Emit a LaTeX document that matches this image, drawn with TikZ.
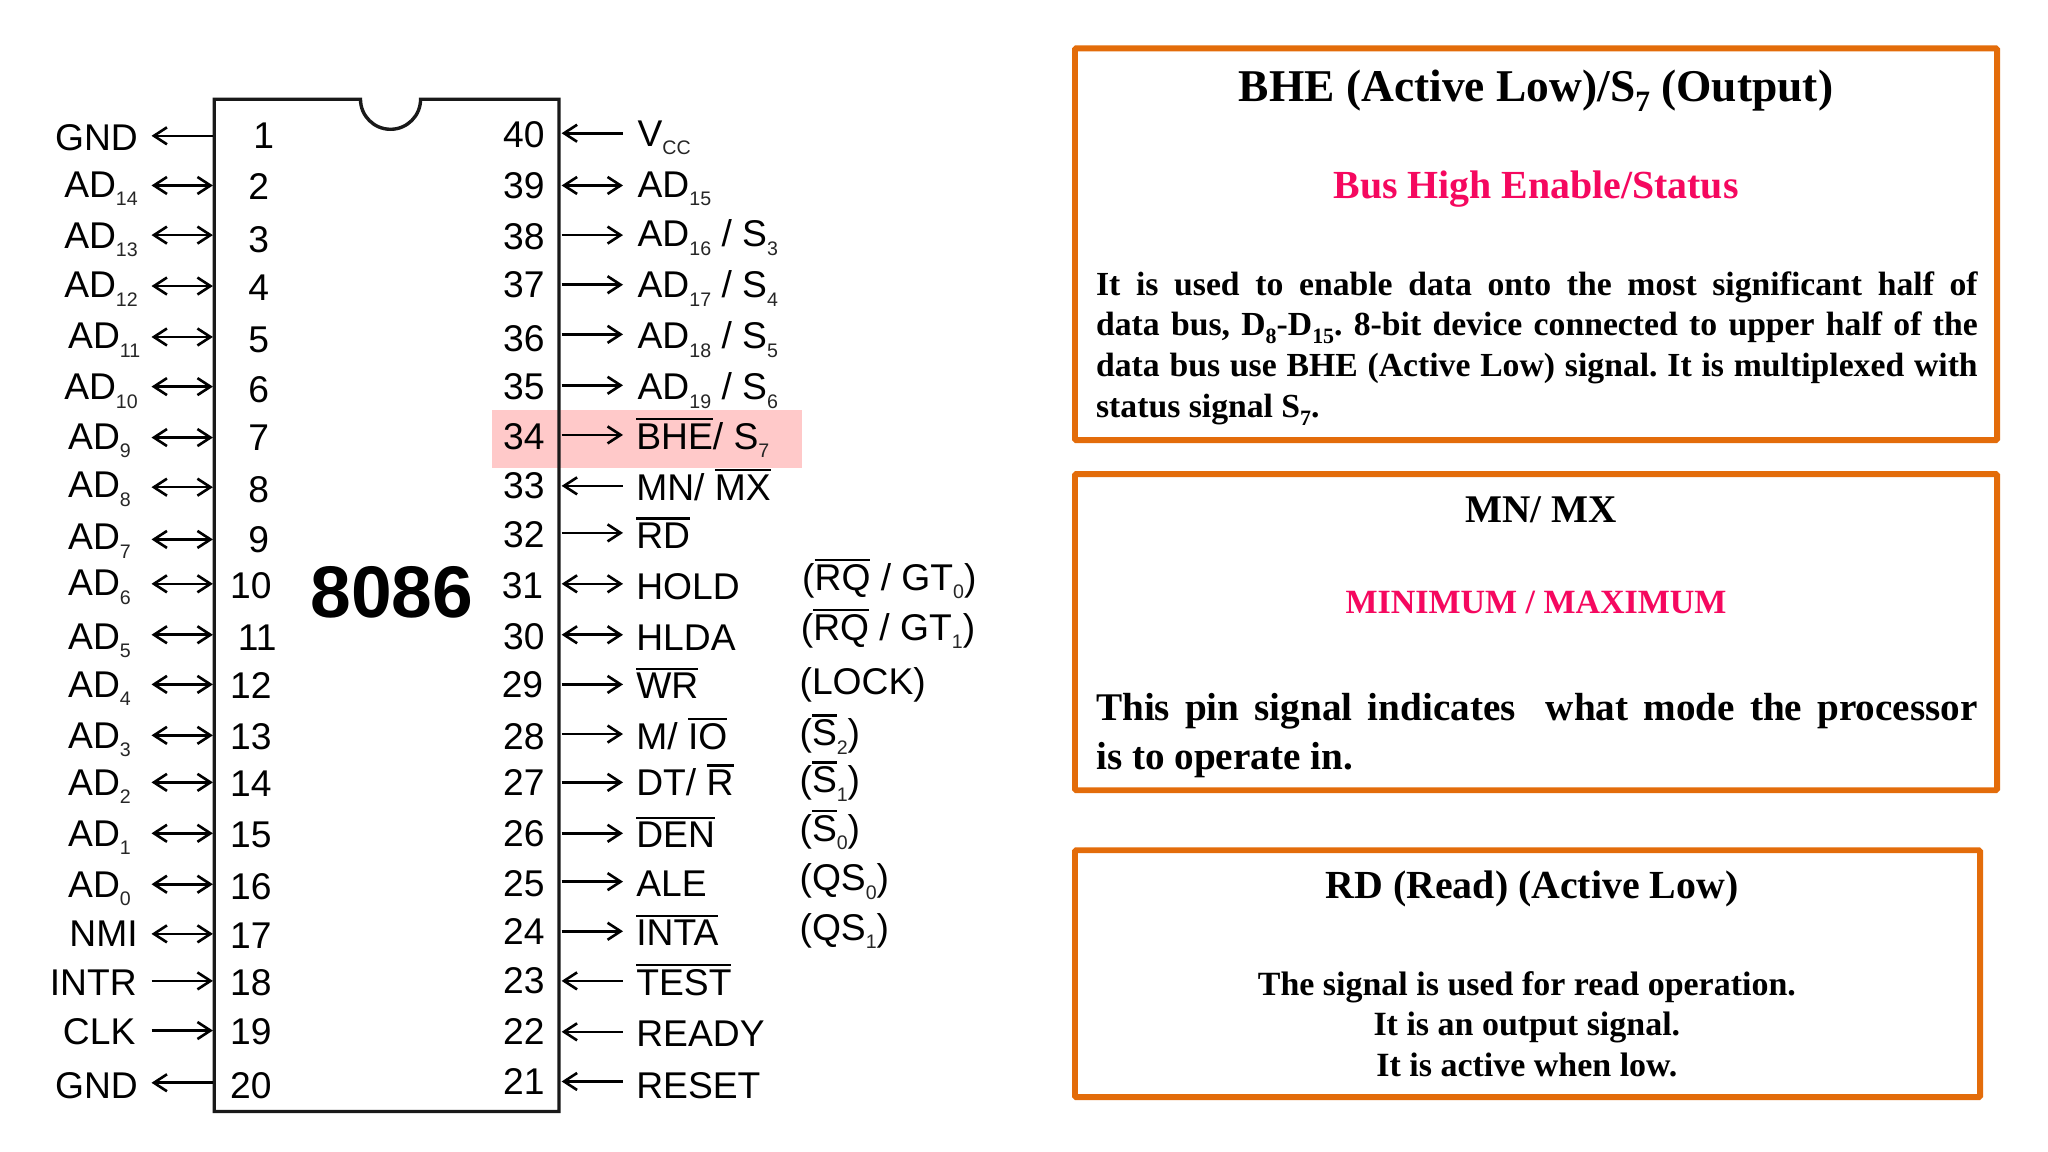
\documentclass[tikz,border=0pt]{standalone}
\usepackage{fontspec}
\usetikzlibrary{arrows.meta}
\setmainfont{Liberation Sans}
\newfontfamily\serifb{Liberation Serif}[BoldFont={Liberation Serif Bold}]
\definecolor{boxorange}{HTML}{E36C0A}
\definecolor{hotpink}{HTML}{F5085F}
\definecolor{hilite}{HTML}{FFC9C9}
\newcommand\ovl[1]{\setbox0\hbox{#1}\rlap{\raisebox{\dimexpr\ht0+2.5pt\relax}{\rule{\wd0}{1.7pt}}}\box0\relax}
\newcommand\sbs[1]{\raisebox{-6.5pt}{\fontsize{15}{16}\selectfont\color{black!85}#1}}
\newcommand\ssb[1]{\raisebox{-.22em}{\scalebox{.65}{#1}}}
\frenchspacing
\tikzset{
  wire/.style={line width=2pt},
  tipto/.style={wire,-{Straight Barb[length=10pt,width=13pt,line width=2pt]}},
  tipback/.style={wire,{Straight Barb[length=10pt,width=13pt,line width=2pt]}-},
  tipboth/.style={wire,{Straight Barb[length=10pt,width=13pt,line width=2pt]}-{Straight Barb[length=10pt,width=13pt,line width=2pt]}},
  pinnum/.style={anchor=base,inner sep=0pt,font=\fontsize{28.5}{30}\selectfont},
  signame/.style={anchor=base west,inner sep=0pt,font=\fontsize{28.5}{30}\selectfont},
  chip/.style={line width=2.6pt,draw=black!90,line join=miter},
  card/.style={draw=boxorange,line width=4.5pt,fill=white,rounded corners=1pt},
  headtext/.style={anchor=base,inner sep=0pt,font=\serifb\bfseries\fontsize{34.8}{36}\selectfont},
  pinktext/.style={anchor=base,inner sep=0pt,text=hotpink,font=\serifb\bfseries\fontsize{30.5}{32}\selectfont},
  bodytext/.style={anchor=base west,inner sep=0pt,font=\serifb\bfseries\fontsize{25.8}{31}\selectfont},
  bodybig/.style={anchor=base west,inner sep=0pt,font=\serifb\bfseries\fontsize{30}{37}\selectfont},
  bodymid/.style={anchor=base,inner sep=0pt,font=\serifb\bfseries\fontsize{26}{31}\selectfont},
}
% pin number, number x, number y, arrow y, label x, label y, arrow style, label
\newcommand\leftpin[8]{%
  \node[pinnum] (n#1) at (#2,#3+10) {#1};
  \node[signame] (s#1) at (#5,#6+10) {#8};
  \coordinate (a#1) at (116,#4);
  \coordinate (b#1) at (163,#4);
  \draw[#7] (a#1) -- (b#1);
}
\newcommand\rightpin[8]{%
  \node[pinnum] (n#1) at (#2,#3+10) {#1};
  \node[signame] (s#1) at (#5,#6+10) {#8};
  \coordinate (a#1) at (430,#4);
  \coordinate (b#1) at (477,#4);
  \draw[#7] (a#1) -- (b#1);
}
\begin{document}
\begin{tikzpicture}[x=1pt,y=-1pt]
\useasboundingbox (0,0) rectangle (1568,882);
\fill[white] (0,0) rectangle (1568,882);
\fill[hilite] (377,314) rectangle (614,358);
\draw[chip] (164,76) -- (276,76) arc[start angle=180,end angle=0,radius=23] -- (428,76) -- (428,851) -- (164,851) -- cycle;
\node[anchor=base,inner sep=0pt,font=\bfseries\fontsize{56}{58}\selectfont] (title8086) at (300,473) {8086};
\leftpin{1}{202}{104}{104}{42}{105}{tipback}{GND}
\leftpin{2}{198}{143}{142}{49}{141}{tipboth}{AD\sbs{14}}
\leftpin{3}{198}{183}{180}{49}{180}{tipboth}{AD\sbs{13}}
\leftpin{4}{198}{220}{219}{49}{218}{tipboth}{AD\sbs{12}}
\leftpin{5}{198}{260}{258}{52}{257}{tipboth}{AD\sbs{11}}
\leftpin{6}{198}{298}{296}{49}{296}{tipboth}{AD\sbs{10}}
\leftpin{7}{198}{335}{335}{52}{334}{tipboth}{AD\sbs{9}}
\leftpin{8}{198}{375}{373}{52}{371}{tipboth}{AD\sbs{8}}
\leftpin{9}{198}{413}{413}{52}{411}{tipboth}{AD\sbs{7}}
\leftpin{10}{192}{448}{447}{52}{446}{tipboth}{AD\sbs{6}}
\leftpin{11}{197}{488}{486}{52}{487}{tipboth}{AD\sbs{5}}
\leftpin{12}{192}{525}{524}{52}{524}{tipboth}{AD\sbs{4}}
\leftpin{13}{192}{564}{563}{52}{563}{tipboth}{AD\sbs{3}}
\leftpin{14}{192}{600}{599}{52}{599}{tipboth}{AD\sbs{2}}
\leftpin{15}{192}{639}{638}{52}{638}{tipboth}{AD\sbs{1}}
\leftpin{16}{192}{679}{677}{52}{677}{tipboth}{AD\sbs{0}}
\leftpin{17}{192}{716}{715}{53}{715}{tipboth}{NMI}
\leftpin{18}{192}{752}{751}{38}{752}{tipto}{INTR}
\leftpin{19}{192}{790}{789}{48}{790}{tipto}{CLK}
\leftpin{20}{192}{831}{829}{42}{831}{tipback}{GND}
\rightpin{40}{401}{103}{102}{488}{102}{tipback}{V\sbs{CC}}
\rightpin{39}{401}{142}{142}{488}{141}{tipboth}{AD\sbs{15}}
\rightpin{38}{401}{181}{180}{488}{179}{tipto}{AD\sbs{16} / S\sbs{3}}
\rightpin{37}{401}{218}{218}{488}{218}{tipto}{AD\sbs{17} / S\sbs{4}}
\rightpin{36}{401}{259}{256}{488}{257}{tipto}{AD\sbs{18} / S\sbs{5}}
\rightpin{35}{401}{296}{295}{488}{296}{tipto}{AD\sbs{19} / S\sbs{6}}
\rightpin{34}{401}{334}{333}{487}{334}{tipto}{\ovl{BHE}/ S\sbs{7}}
\rightpin{33}{401}{372}{372}{487}{373}{tipback}{MN/ \ovl{MX}}
\rightpin{32}{401}{409}{408}{487}{410}{tipto}{\ovl{RD}}
\rightpin{31}{400}{448}{447}{487}{449}{tipboth}{HOLD}
\rightpin{30}{401}{487}{486}{487}{488}{tipboth}{HLDA}
\rightpin{29}{400}{524}{524}{487}{525}{tipto}{\ovl{WR}}
\rightpin{28}{401}{564}{562}{487}{564}{tipto}{M/ \ovl{IO}}
\rightpin{27}{401}{599}{599}{487}{599}{tipto}{DT/ \ovl{R}}
\rightpin{26}{401}{638}{638}{487}{639}{tipto}{\ovl{DEN}}
\rightpin{25}{401}{676}{675}{487}{676}{tipto}{ALE}
\rightpin{24}{401}{713}{713}{487}{714}{tipto}{\ovl{INTA}}
\rightpin{23}{401}{751}{751}{487}{752}{tipback}{\ovl{TEST}}
\rightpin{22}{401}{790}{790}{487}{791}{tipback}{READY}
\rightpin{21}{401}{828}{828}{487}{831}{tipback}{RESET}
\node[signame] (alt31) at (614,452) {(\ovl{RQ} / GT\sbs{0})};
\node[signame] (alt30) at (613,490) {(\ovl{RQ} / GT\sbs{1})};
\node[signame] (alt29) at (612,532) {(LOCK)};
\node[signame] (alt28) at (612,571) {(\ovl{S}\sbs{2})};
\node[signame] (alt27) at (612,607) {(\ovl{S}\sbs{1})};
\node[signame] (alt26) at (612,644) {(\ovl{S}\sbs{0})};
\node[signame] (alt25) at (612,682) {(QS\sbs{0})};
\node[signame] (alt24) at (612,720) {(QS\sbs{1})};
\draw[card] (823,37) rectangle (1529,337);
\draw[card] (823,363) rectangle (1529,605);
\draw[card] (823,651) rectangle (1516,840);
\node[headtext] (h1) at (1176,78) {BHE (Active Low)/S\ssb{7} (Output)};
\node[pinktext] (p1) at (1176,152) {Bus High Enable/Status};
\node[bodytext] (b1a) at (839,226) {\makebox[675pt][s]{It is used to enable data onto the most significant half of}};
\node[bodytext] (b1b) at (839,257) {\makebox[675pt][s]{data bus, D\ssb{8}-D\ssb{15}. 8-bit device connected to upper half of the}};
\node[bodytext] (b1c) at (839,288) {\makebox[675pt][s]{data bus use BHE (Active Low) signal. It is multiplexed with}};
\node[bodytext] (b1d) at (839,320) {status signal S\ssb{7}.};
\node[headtext,font=\serifb\bfseries\fontsize{30}{32}\selectfont] (h2) at (1180,400) {MN/ MX};
\node[pinktext,font=\serifb\bfseries\fontsize{26}{30}\selectfont] (p2) at (1176,470) {MINIMUM / MAXIMUM};
\node[bodybig] (b2a) at (839,552) {\makebox[675pt][s]{This pin signal indicates\ \ what mode the processor}};
\node[bodybig] (b2b) at (839,589) {is to operate in.};
\node[headtext,font=\serifb\bfseries\fontsize{30.5}{32}\selectfont] (h3) at (1173,688) {RD (Read) (Active Low)};
\node[bodymid] (b3a) at (1169,762) {The signal is used for read operation.};
\node[bodymid] (b3b) at (1169,793) {It is an output signal.};
\node[bodymid] (b3c) at (1169,824) {It is active when low.};
\end{tikzpicture}
\end{document}
